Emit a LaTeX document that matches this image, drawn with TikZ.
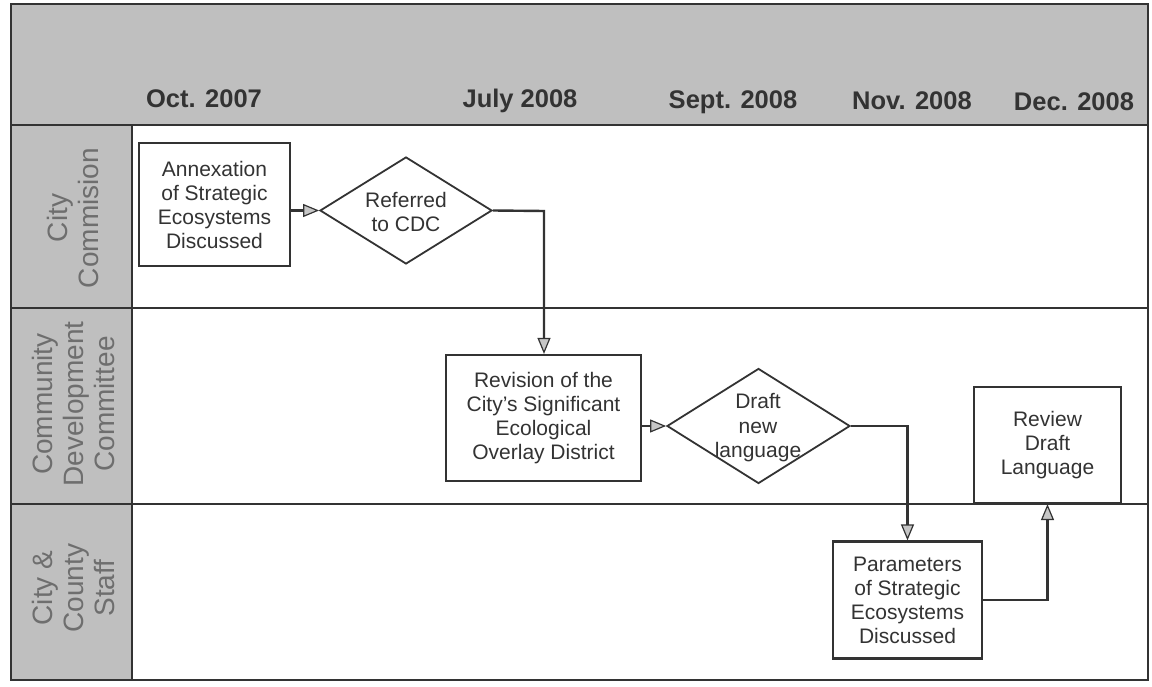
\documentclass[tikz,border=0pt]{standalone}
\usepackage{fontspec}
\setmainfont{Liberation Sans}
\usetikzlibrary{shapes.geometric,arrows.meta}
\definecolor{hdr}{HTML}{BFBFBF}
\definecolor{ink}{HTML}{333333}
\definecolor{lbl}{HTML}{6E6E6E}
\begin{document}
\begin{tikzpicture}[x=1pt,y=-1pt,
 box/.style={draw=ink,line width=2.2pt,fill=white,text=ink,align=center,font=\fontsize{21}{24}\selectfont,inner sep=0pt},
 dia/.style={diamond,draw=ink,line width=1.8pt,fill=white,inner sep=0pt},
 dtext/.style={text=ink,align=center,font=\fontsize{21}{24.5}\selectfont,inner sep=0pt},
 date/.style={text=ink,anchor=base,font=\bfseries\fontsize{25.5}{30}\selectfont},
 lane/.style={text=lbl,align=center,rotate=90,font=\fontsize{28}{31}\selectfont},
 conn/.style={draw=ink,line width=2.4pt,-{Triangle[length=16pt,width=13pt,fill=gray!45,line width=1.2pt]}},
 rule/.style={draw=ink,line width=2pt},
]
\useasboundingbox (0,0) rectangle (1152,687);
\fill[white] (0,0) rectangle (1152,687);
% header and lane title column
\fill[hdr] (11,4) rectangle (1148,125);
\fill[hdr] (11,125) rectangle (132,680);
% lane rules
\draw[rule] (11,308) -- (1148,308);
\draw[rule] (11,504) -- (1148,504);
\draw[rule] (132,125) -- (132,680);
\draw[draw=ink,line width=2.8pt] (11,125) -- (1148,125);
\draw[draw=ink,line width=2.8pt] (11,4) rectangle (1148,680);
% dates
\node[date] (t1) at (204,108) {Oct. 2007};
\node[date] (t2) at (520,108) {July 2008};
\node[date] (t3) at (733,109) {Sept. 2008};
\node[date] (t4) at (912,110) {Nov. 2008};
\node[date] (t5) at (1074,111) {Dec. 2008};
% lane labels
\node[lane] (l1) at (73,218) {City\\Commision};
\node[lane] (l2) at (73,404) {Community\\Development\\Committee};
\node[lane] (l3) at (73,588) {City \&\\County\\Staff};
% process nodes
\node[box,minimum width=151pt,minimum height=123pt] (ann) at (214.5,204.5) {Annexation\\of Strategic\\Ecosystems\\Discussed};
\node[dia,minimum width=172pt,minimum height=107pt] (ref) at (406,210.5) {};
\node[dtext] (reft) at (406,212) {Referred\\to CDC};
\node[box,minimum width=195pt,minimum height=126pt] (rev) at (543.5,418) {Revision of the\\City's Significant\\Ecological\\Overlay District};
\node[dia,minimum width=183pt,minimum height=115pt] (dft) at (758.5,426) {};
\node[dtext] (dftt) at (758,428) {Draft\\new\\language};
\node[box,minimum width=149pt,minimum height=117pt] (par) at (907.5,600) {Parameters\\of Strategic\\Ecosystems\\Discussed};
\node[box,minimum width=147pt,minimum height=116pt] (rvw) at (1047.5,445) {Review\\Draft\\Language};
% connectors
\coordinate (k1) at (544,211);
\draw[conn] (ann.east |- ref.west) -- (ref.west);
\draw[conn] (ref.east) -- (k1) -- (k1 |- rev.north);
\draw[conn] (rev.east |- dft.west) -- (dft.west);
\draw[conn] (dft.east) -| (par.north);
\draw[conn] (par.east) -| (rvw.south);
\end{tikzpicture}
\end{document}
